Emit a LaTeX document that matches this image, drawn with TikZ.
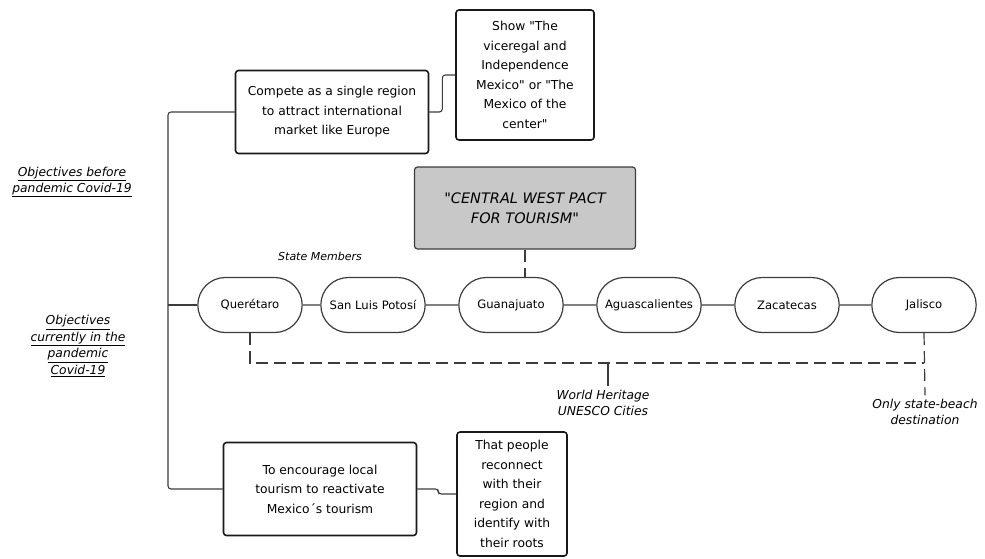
\documentclass[tikz,border=0pt]{standalone}
\usepackage{fontspec}
\setmainfont{DejaVu Sans}[Ligatures=TeXOff]
\usepackage{xcolor}
\usepackage{tikz}
\usetikzlibrary{positioning,shapes.misc}
\definecolor{boxline}{RGB}{25,25,25}
\definecolor{wireline}{RGB}{60,60,60}
\definecolor{pactgray}{RGB}{200,200,200}

\tikzset{
  goalbox/.style={draw=boxline, line width=1.6pt, rounded corners=3pt, fill=white,
    align=center, font=\fontsize{12.3}{19.5}\selectfont, inner sep=3pt},
  statebox/.style={rounded rectangle, draw=wireline, line width=1.2pt, fill=white,
    minimum width=111pt, minimum height=55pt, font=\fontsize{11.6}{13}\selectfont},
  pactbox/.style={draw=wireline, line width=1.2pt, rounded corners=3pt, fill=pactgray,
    align=center, minimum width=221pt, minimum height=82pt,
    font=\fontsize{14.5}{19.5}\selectfont\itshape},
  notetext/.style={align=center, font=\fontsize{12.3}{16.5}\selectfont\itshape},
  wire/.style={draw=wireline, line width=1.1pt, rounded corners=3pt},
  dashwire/.style={draw=wireline, line width=1.2pt, dash pattern=on 12pt off 6pt}
}

\begin{document}
\begin{tikzpicture}[x=1pt,y=-1pt]
    \useasboundingbox (0,0) rectangle (985,558);

    % Objective boxes
    \node[goalbox, minimum width=193pt, minimum height=83pt] (compete) at (332,112)
        {Compete as a single region\\to attract international\\market like Europe};
    \node[goalbox, minimum width=138pt, minimum height=130pt] (show) at (525,75)
        {Show "The\\viceregal and\\Independence\\Mexico" or "The\\Mexico of the\\center"};
    \node[goalbox, minimum width=193pt, minimum height=93pt] (encourage) at (320,489)
        {To encourage local\\tourism to reactivate\\Mexico´s tourism};
    \node[goalbox, minimum width=110pt, minimum height=124pt] (people) at (512,494)
        {That people\\reconnect\\with their\\region and\\identify with\\their roots};

    % Pact
    \node[pactbox] (pact) at (525,208) {"CENTRAL WEST PACT\\FOR TOURISM"};

    % State members
    \foreach \name/\x/\label in {quer/250/Querétaro, slp/373/San Luis Potosí,
        guan/511/Guanajuato, ags/649/Aguascalientes, zac/787/Zacatecas, jal/924/Jalisco}
        \node[statebox] (\name) at (\x,305) {\label};
    \draw[wire] (quer) -- (slp);
    \draw[wire] (slp) -- (guan);
    \draw[wire] (guan) -- (ags);
    \draw[wire] (ags) -- (zac);
    \draw[wire] (zac) -- (jal);
    \draw[dashwire] (pact.south) -- (pact.south |- guan.north);

    % Labels
    \node[notetext, font=\fontsize{11}{13}\selectfont\itshape] (members) at (320,256) {State Members};
    \node[notetext] (before) at (72,182) {\underline{Objectives before}\\\underline{pandemic Covid-19}};
    \node[notetext] (during) at (78,346) {\underline{Objectives}\\\underline{currently in the}\\\underline{pandemic}\\\underline{Covid-19}};
    \node[notetext] (heritage) at (603,403) {World Heritage\\UNESCO Cities};
    \node[notetext] (beach) at (925,412) {Only state-beach\\destination};

    % Connectors
    \coordinate (spine) at (168,0);
    \coordinate (dashrow) at (0,363);
    \draw[wire] (compete.west) -| (spine |- encourage.west) -- (encourage.west);
    \draw[wire] (spine |- quer.west) -- (quer.west);
    \draw[wire] (compete.east) -- ++(13,0) |- (show.west);
    \draw[wire] (encourage.east) -- ++(21,0) |- (people.west);
    \draw[dashwire] (quer.south) |- (jal.south |- dashrow);
    \draw[dashwire] (jal.south) -- (beach.north);
    \draw[wire] (heritage.north -| 608,0) -- (dashrow -| 608,0);
\end{tikzpicture}
\end{document}
